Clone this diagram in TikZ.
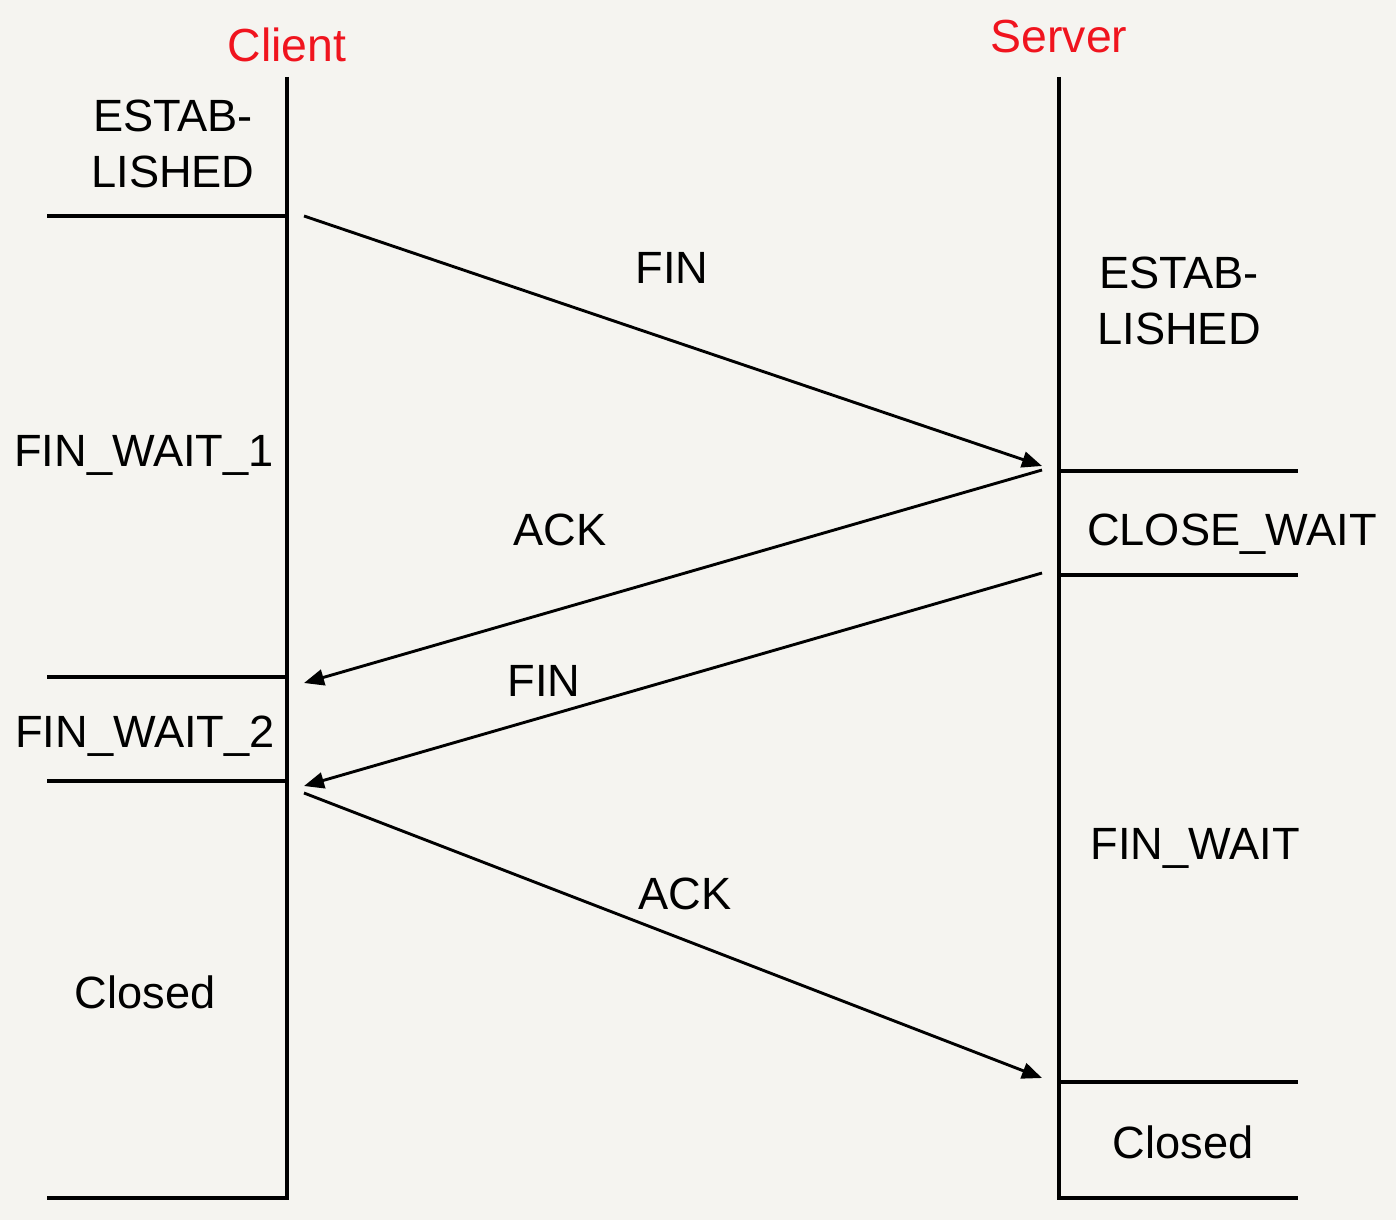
\documentclass[tikz,border=0pt]{standalone}
\usepackage{fontspec}
\setmainfont{Liberation Sans}
\usetikzlibrary{arrows.meta}
\definecolor{bg}{RGB}{245,244,240}
\definecolor{lblred}{RGB}{240,20,30}
\begin{document}
\begin{tikzpicture}[x=0.5pt,y=-0.5pt,
  lane/.style={line width=1.6pt},
  msg/.style={line width=1.45pt,-{Triangle[length=10pt,width=8pt]}},
  lbl/.style={anchor=base,inner sep=0pt,font=\fontsize{22.6}{28}\selectfont,align=center},
  who/.style={anchor=base,inner sep=0pt,font=\fontsize{23.2}{28}\selectfont,text=lblred}]
\fill[bg] (0,0) rectangle (1396,1220);
\useasboundingbox (0,0) rectangle (1396,1220);
% lanes
\coordinate (ct) at (287,77);
\coordinate (cb) at (287,1198);
\coordinate (st) at (1059,77);
\coordinate (sb) at (1059,1198);
\draw[lane] (ct) -- (cb) -- (47,1198);
\draw[lane] (st) -- (sb) -- (1298,1198);
% client state lines
\draw[lane] (47,216) -- (287,216);
\draw[lane] (47,677) -- (287,677);
\draw[lane] (47,781) -- (287,781);
% server state lines
\draw[lane] (1059,471) -- (1298,471);
\draw[lane] (1059,575) -- (1298,575);
\draw[lane] (1059,1082) -- (1298,1082);
% headers
\node[who] (client) at (287,62) {Client};
\node[who] (server) at (1059,53) {Server};
% client states
\node[lbl] (cest) at (173,187) {ESTAB-\\LISHED};
\node[lbl] (cfw1) at (144,466) {FIN\_WAIT\_1};
\node[lbl] (cfw2) at (145,747) {FIN\_WAIT\_2};
\node[lbl] (ccl) at (145,1008) {Closed};
% server states
\node[lbl] (sest) at (1179,344) {ESTAB-\\LISHED};
\node[lbl] (scw) at (1232,545) {CLOSE\_WAIT};
\node[lbl] (sfw) at (1195,859) {FIN\_WAIT};
\node[lbl] (scl) at (1183,1158) {Closed};
% messages
\coordinate (a1) at (304,216);
\coordinate (b1) at (1042,466);
\coordinate (a2) at (1042,470);
\coordinate (b2) at (304,683);
\coordinate (a3) at (1042,573);
\coordinate (b3) at (304,786);
\coordinate (a4) at (304,793);
\coordinate (b4) at (1042,1078);
\draw[msg] (a1) -- (b1);
\draw[msg] (a2) -- (b2);
\draw[msg] (a3) -- (b3);
\draw[msg] (a4) -- (b4);
\node[lbl] (m1) at (672,283) {FIN};
\node[lbl] (m2) at (560,545) {ACK};
\node[lbl] (m3) at (544,696) {FIN};
\node[lbl] (m4) at (685,909) {ACK};
\end{tikzpicture}
\end{document}
